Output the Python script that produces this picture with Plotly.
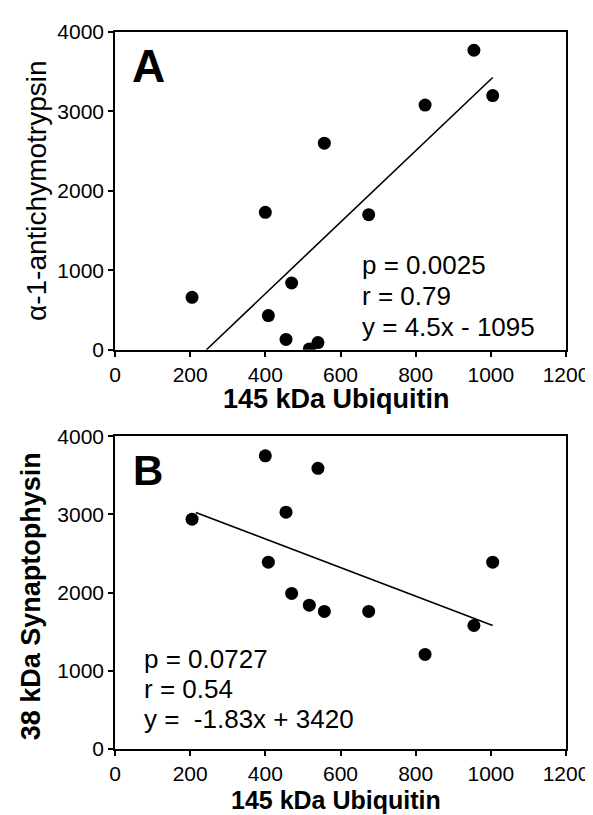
import plotly.graph_objects as go

# ---- data ----
ubiquitin_145 = [205, 400, 408, 455, 470, 517, 540, 557, 675, 825, 955, 1005]
act_a = [660, 1730, 430, 130, 840, 10, 90, 2600, 1700, 3080, 3770, 3200]
syn_b = [2940, 3750, 2390, 3030, 1990, 1840, 3590, 1760, 1760, 1210, 1580, 2390]

fit_a_slope, fit_a_intercept = 4.5, -1095
fit_a_xrange = [243.3, 1005]
fit_b_slope, fit_b_intercept = -1.83, 3420
fit_b_xrange = [215, 1005]

stats_a = ["p = 0.0025", "r = 0.79", "y = 4.5x - 1095"]
stats_b = ["p = 0.0727", "r = 0.54", "y =  -1.83x + 3420"]

x_ticks = [0, 200, 400, 600, 800, 1000, 1200]
y_ticks = [0, 1000, 2000, 3000, 4000]

FONT = "Arial, 'Liberation Sans', Helvetica, sans-serif"

fig = go.Figure()

fit_a_y = [fit_a_slope * x + fit_a_intercept for x in fit_a_xrange]
fit_b_y = [fit_b_slope * x + fit_b_intercept for x in fit_b_xrange]

fig.add_trace(go.Scatter(x=fit_a_xrange, y=fit_a_y, mode="lines",
                         line=dict(color="black", width=1.6), xaxis="x", yaxis="y"))
fig.add_trace(go.Scatter(x=ubiquitin_145, y=act_a, mode="markers",
                         marker=dict(color="black", size=13), xaxis="x", yaxis="y"))
fig.add_trace(go.Scatter(x=fit_b_xrange, y=fit_b_y, mode="lines",
                         line=dict(color="black", width=1.6), xaxis="x2", yaxis="y2"))
fig.add_trace(go.Scatter(x=ubiquitin_145, y=syn_b, mode="markers",
                         marker=dict(color="black", size=13), xaxis="x2", yaxis="y2"))

axis_common = dict(
    showline=True, linecolor="black", linewidth=1.6, mirror=True,
    ticks="outside", ticklen=5, tickwidth=1.5, tickcolor="black",
    showgrid=False, zeroline=False,
    tickfont=dict(family=FONT, size=21, color="black"),
)

fig.update_layout(
    width=593, height=815,
    margin=dict(l=107, r=26, t=21, b=74),
    paper_bgcolor="white", plot_bgcolor="white",
    showlegend=False, hovermode=False,
    xaxis=dict(domain=[0, 1], range=[0, 1200], tickvals=x_ticks, anchor="y", **axis_common),
    yaxis=dict(domain=[0.5569, 1], range=[0, 4000], tickvals=y_ticks, anchor="x", **axis_common),
    xaxis2=dict(domain=[0, 1], range=[0, 1200], tickvals=x_ticks, anchor="y2", **axis_common),
    yaxis2=dict(domain=[0, 0.4361], range=[0, 4000], tickvals=y_ticks, anchor="x2", **axis_common),
)

ann = []
# panel letters
ann.append(dict(text="<b>A</b>", x=90, y=3570, xref="x", yref="y", showarrow=False,
                xanchor="center", yanchor="middle", font=dict(family=FONT, size=46, color="black")))
ann.append(dict(text="<b>B</b>", x=88, y=3560, xref="x2", yref="y2", showarrow=False,
                xanchor="center", yanchor="middle", font=dict(family=FONT, size=42, color="black")))

# stats text
for txt, yy in zip(stats_a, [1063, 673, 283]):
    ann.append(dict(text=txt, x=652, y=yy, xref="x", yref="y", showarrow=False,
                    xanchor="left", yanchor="middle", font=dict(family=FONT, size=26, color="black")))
for txt, yy in zip(stats_b, [1155, 770, 385]):
    ann.append(dict(text=txt, x=73, y=yy, xref="x2", yref="y2", showarrow=False,
                    xanchor="left", yanchor="middle", font=dict(family=FONT, size=26, color="black")))

# axis titles
ann.append(dict(text="<b>145 kDa Ubiquitin</b>", x=0.491, y=0.4875, xref="paper", yref="paper",
                showarrow=False, xanchor="center", yanchor="middle",
                font=dict(family=FONT, size=27, color="black")))
ann.append(dict(text="<b>145 kDa Ubiquitin</b>", x=0.491, y=-0.0708, xref="paper", yref="paper",
                showarrow=False, xanchor="center", yanchor="middle",
                font=dict(family=FONT, size=25, color="black")))
ann.append(dict(text="α-1-antichymotrypsin", x=-0.174, y=0.779, xref="paper", yref="paper",
                showarrow=False, xanchor="center", yanchor="middle", textangle=-90,
                font=dict(family=FONT, size=28, color="black")))
ann.append(dict(text="<b>38 kDa Synaptophysin</b>", x=-0.187, y=0.2125, xref="paper", yref="paper",
                showarrow=False, xanchor="center", yanchor="middle", textangle=-90,
                font=dict(family=FONT, size=27, color="black")))

fig.update_layout(annotations=ann)
fig.write_html("out.html")
